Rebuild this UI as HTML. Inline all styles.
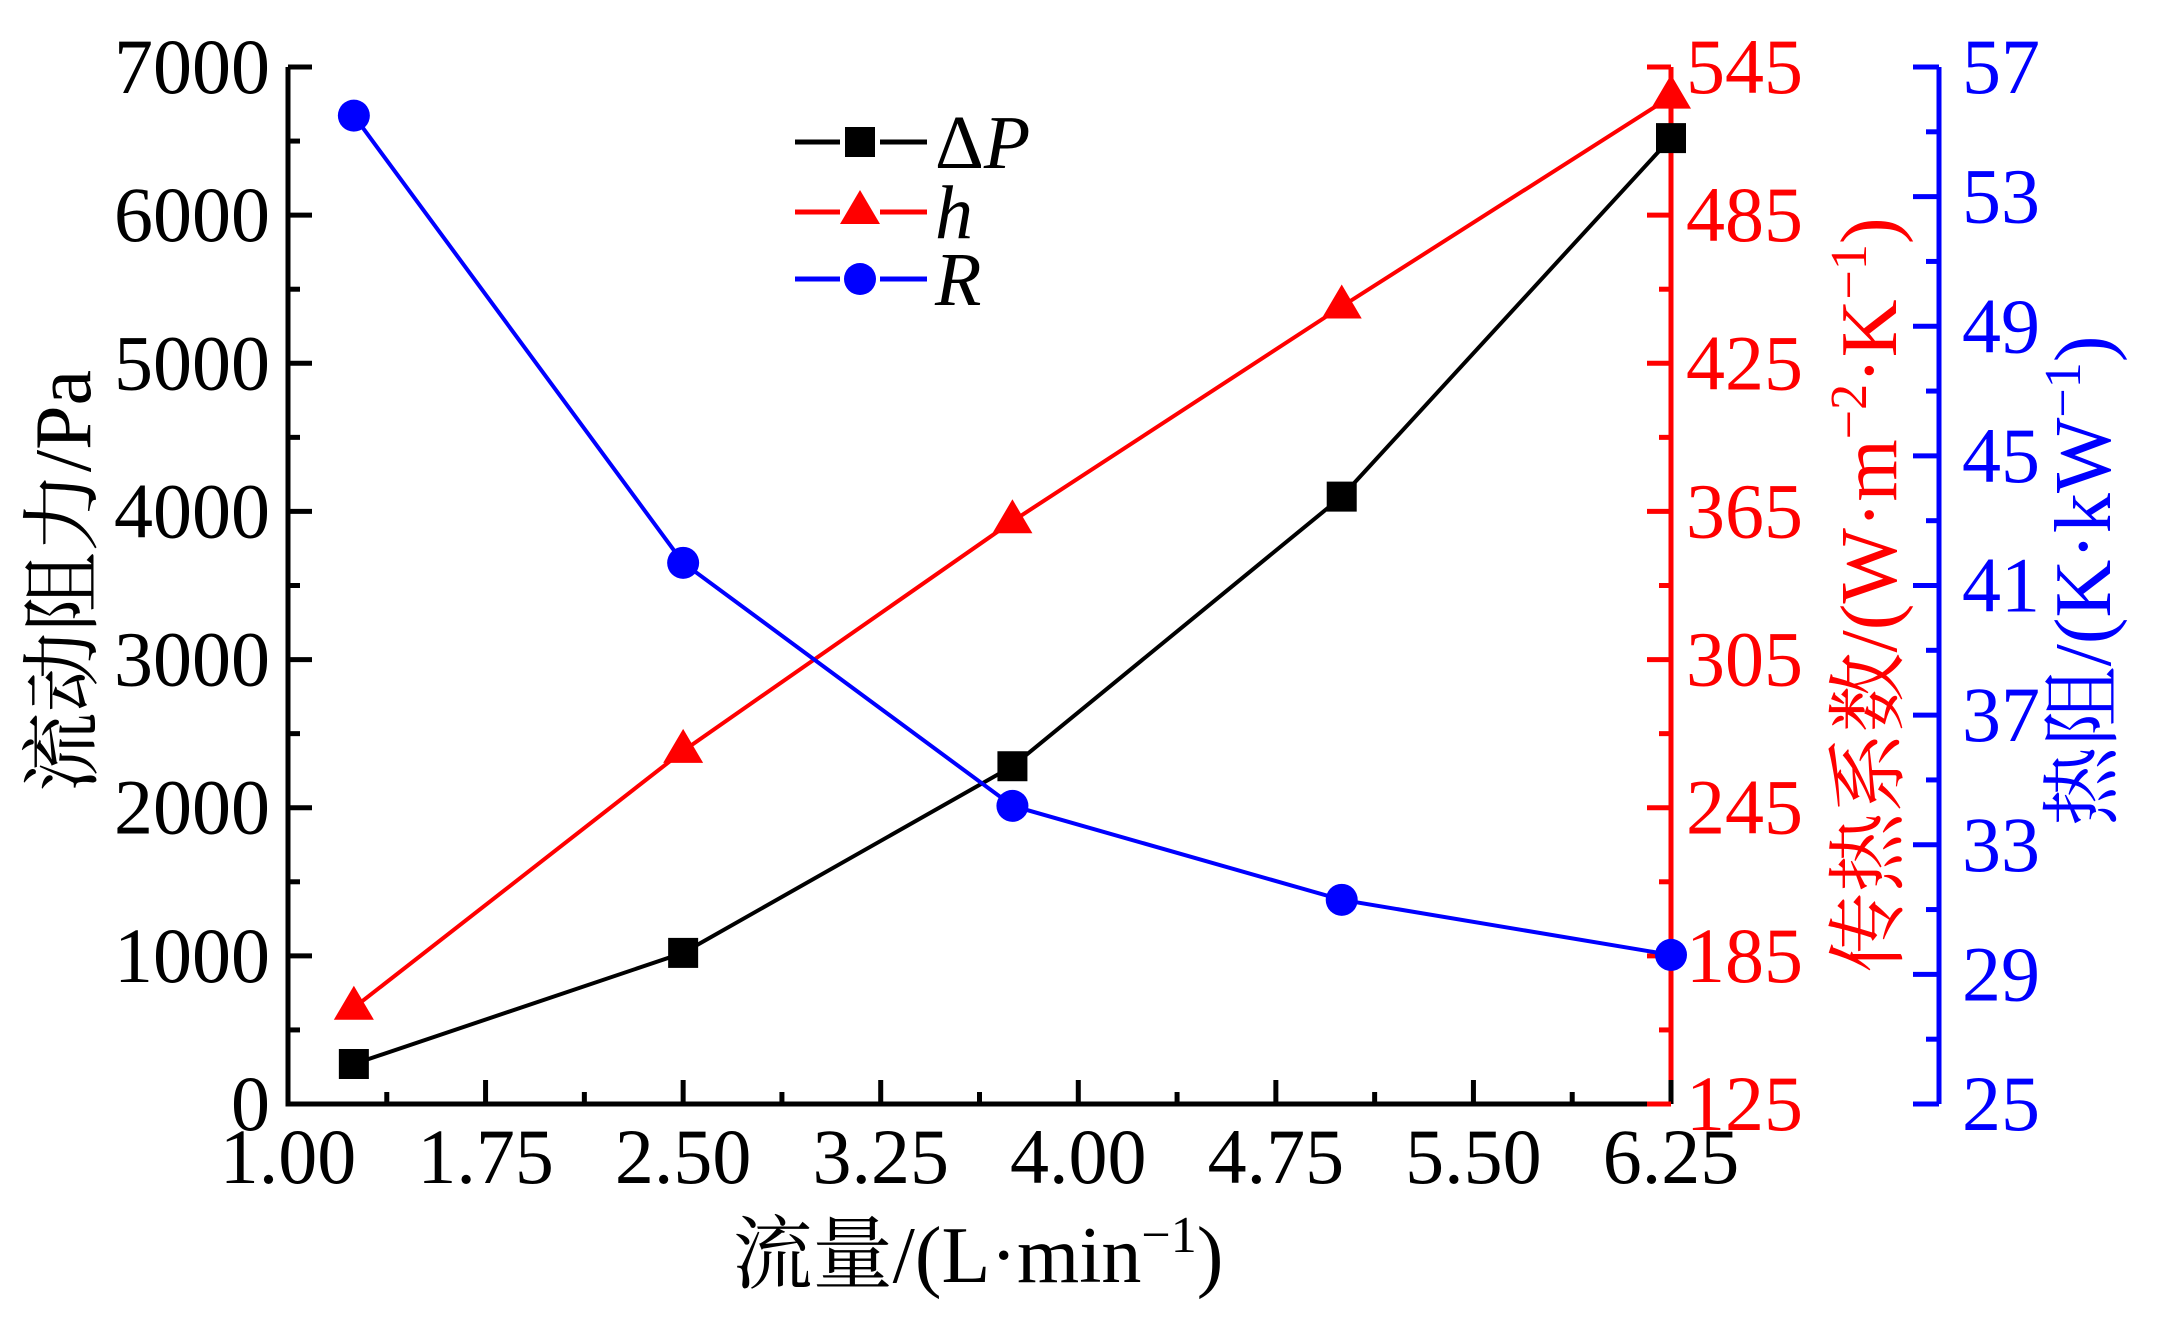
<!DOCTYPE html>
<html><head><meta charset="utf-8"><style>
html,body{margin:0;padding:0;background:#fff;}
svg{display:block;font-family:"Liberation Serif","Noto Serif CJK SC",serif;}
</style></head><body>
<svg id="chart" width="2172" height="1337" viewBox="0 0 2172 1337" xmlns="http://www.w3.org/2000/svg"></svg>
<script>
const flows=[1.25,2.5,3.75,5.0,6.25];
const dpValues=[270,1020,2280,4100,6520];
const hValues=[164,268,361,448,533];
const rValues=[55.5,41.7,34.2,31.3,29.6];
const xTicks=["1.00","1.75","2.50","3.25","4.00","4.75","5.50","6.25"];
const leftTicks=["0","1000","2000","3000","4000","5000","6000","7000"];
const redTicks=["125","185","245","305","365","425","485","545"];
const blueTicks=["25","29","33","37","41","45","49","53","57"];

const L=288,R=1671,T=67,B=1104,BX=1939;
const sx=v=>L+(v-1)/(6.25-1)*(R-L);
const syL=v=>B-v/7000*(B-T);
const syH=v=>B-(v-125)/420*(B-T);
const syR=v=>B-(v-25)/32*(B-T);
const svg=document.getElementById('chart');
const NS='http://www.w3.org/2000/svg';
function mk(tag,attrs,parent){const e=document.createElementNS(NS,tag);for(const k in attrs)e.setAttribute(k,attrs[k]);(parent||svg).appendChild(e);return e;}
function txt(s,attrs,parent){const e=mk('text',attrs,parent);e.textContent=s;return e;}

// axes
let g=mk('g',{});


let a=mk('path',{d:`M${L},${T}V${B}H${R}`,stroke:'#000','stroke-width':5,fill:'none'},g);


a=mk('line',{x1:R,y1:T,x2:R,y2:B,stroke:'#f00','stroke-width':5},g);


a=mk('line',{x1:BX,y1:T,x2:BX,y2:B,stroke:'#00f','stroke-width':5},g);



// x ticks
for(let i=0;i<xTicks.length;i++){
  const v=1+i*0.75,x=sx(v);
  mk('line',{x1:x,y1:B,x2:x,y2:B-24,stroke:'#000','stroke-width':5},g);
  if(i<xTicks.length-1){const xm=sx(v+0.375);mk('line',{x1:xm,y1:B,x2:xm,y2:B-12,stroke:'#000','stroke-width':5},g);}
  const t=txt(xTicks[i],{x:x,y:1183,'font-size':78,'text-anchor':'middle',fill:'#000'},g);
  
  
}
// left ticks
for(let i=0;i<leftTicks.length;i++){
  const v=i*1000,y=syL(v);
  mk('line',{x1:L,y1:y,x2:L+24,y2:y,stroke:'#000','stroke-width':5},g);
  if(i<leftTicks.length-1){const ym=syL(v+500);mk('line',{x1:L,y1:ym,x2:L+12,y2:ym,stroke:'#000','stroke-width':5},g);}
  const t=txt(leftTicks[i],{x:270,y:y+26,'font-size':78,'text-anchor':'end',fill:'#000'},g);
  
  
}
// red ticks
for(let i=0;i<redTicks.length;i++){
  const v=125+i*60,y=syH(v);
  mk('line',{x1:R,y1:y,x2:R-24,y2:y,stroke:'#f00','stroke-width':5},g);
  if(i<redTicks.length-1){const ym=syH(v+30);mk('line',{x1:R,y1:ym,x2:R-12,y2:ym,stroke:'#f00','stroke-width':5},g);}
  const t=txt(redTicks[i],{x:1686,y:y+26,'font-size':78,fill:'#f00'},g);
  
  
}
// blue ticks
for(let i=0;i<blueTicks.length;i++){
  const v=25+i*4,y=syR(v);
  mk('line',{x1:BX,y1:y,x2:BX-26,y2:y,stroke:'#00f','stroke-width':5},g);
  if(i<blueTicks.length-1){const ym=syR(v+2);mk('line',{x1:BX,y1:ym,x2:BX-13,y2:ym,stroke:'#00f','stroke-width':5},g);}
  const t=txt(blueTicks[i],{x:1962,y:y+26,'font-size':78,fill:'#00f'},g);
  
  
}

// titles
let t=txt('',{x:978,y:1282,'font-size':80,'text-anchor':'middle',fill:'#000'});


t.innerHTML='流量/(L·min<tspan dy="-30" font-size="52">−1</tspan><tspan dy="30">)</tspan>';
t=txt('流动阻力/Pa',{x:0,y:0,'font-size':80,'text-anchor':'middle',fill:'#000',transform:'translate(90,581) rotate(-90)'});


t=txt('',{x:0,y:0,'font-size':80,'text-anchor':'middle',fill:'#f00',transform:'translate(1896,595) rotate(-90)'});


t.innerHTML='传热系数/(W·m<tspan dy="-30" font-size="52">−2</tspan><tspan dy="30">·K</tspan><tspan dy="-30" font-size="52">−1</tspan><tspan dy="30">)</tspan>';
t=txt('',{x:0,y:0,'font-size':80,'text-anchor':'middle',fill:'#00f',transform:'translate(2110,581) rotate(-90)'});


t.innerHTML='热阻/(K·kW<tspan dy="-30" font-size="52">−1</tspan><tspan dy="30">)</tspan>';

// series
function square(x,y,c,p){const e=mk('rect',{x:x-15,y:y-15,width:30,height:30,fill:c},p);return e;}
function tri(x,y,c,p){return mk('polygon',{points:`${x},${y-22} ${x-20},${y+12} ${x+20},${y+12}`,fill:c},p);}
function circ(x,y,c,p){return mk('circle',{cx:x,cy:y,r:16,fill:c},p);}
const series=[
 {name:'dp',vals:dpValues,sy:syL,c:'#000',m:square},
 {name:'h',vals:hValues,sy:syH,c:'#f00',m:tri},
 {name:'r',vals:rValues,sy:syR,c:'#00f',m:circ}];
series.forEach(s=>{
  const sg=mk('g',{});
  
  
  const pts=flows.map((f,i)=>sx(f)+','+s.sy(s.vals[i])).join(' ');
  const pl=mk('polyline',{points:pts,fill:'none',stroke:s.c,'stroke-width':4},sg);
  
  
  flows.forEach((f,i)=>{
    const m=s.m(sx(f),s.sy(s.vals[i]),s.c,sg);
    
    
  });
});

// legend
const lg=mk('g',{});


const legItems=[['ΔP','#000',square,142],['h','#f00',tri,212],['R','#00f',circ,279]];
legItems.forEach(it=>{
  const eg=mk('g',{},lg);
  
  
  mk('line',{x1:795,y1:it[3],x2:840,y2:it[3],stroke:it[1],'stroke-width':5},eg);
  mk('line',{x1:880,y1:it[3],x2:927,y2:it[3],stroke:it[1],'stroke-width':5},eg);
  it[2](860,it[3],it[1],eg);
  const tt=txt('',{x:935,y:it[3]+26,'font-size':76,fill:'#000'},eg);
  if(it[0]==='ΔP'){tt.innerHTML='Δ<tspan font-style="italic">P</tspan>';}
  else{tt.setAttribute('font-style','italic');tt.textContent=it[0];}
});
</script>
</body></html>
